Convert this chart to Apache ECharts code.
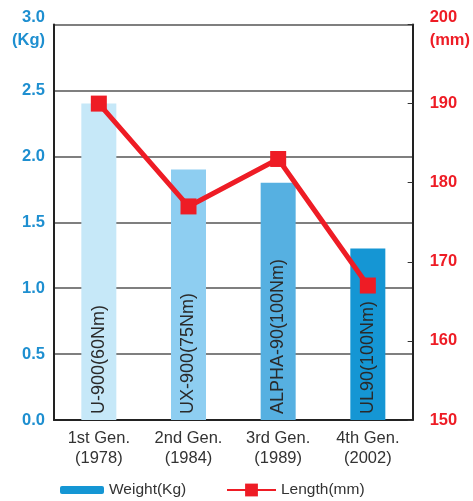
<!DOCTYPE html>
<html><head><meta charset="utf-8">
<script src="https://cdn.jsdelivr.net/npm/echarts@6/dist/echarts.min.js"></script>
<style>html,body{margin:0;padding:0;background:#fff}#c{width:473px;height:501px}</style>
</head><body><div id="c"></div>
<script>
const categories = ['1st Gen.\n(1978)', '2nd Gen.\n(1984)', '3rd Gen.\n(1989)', '4th Gen.\n(2002)'];
const models = ['U-900(60Nm)', 'UX-900(75Nm)', 'ALPHA-90(100Nm)', 'UL90(100Nm)'];
const weightKg = [2.4, 1.9, 1.8, 1.3];
const lengthMm = [190, 177, 183, 167];
const barColors = ['#c6e8f8', '#8ecef1', '#56b0e1', '#1596d4'];

const chart = echarts.init(document.getElementById('c'));
const font = '"Liberation Sans", Arial, sans-serif';
chart.setOption({
  animation: false,
  textStyle: { fontFamily: font },
  grid: { left: 54, right: 58, top: 22, bottom: 81 },
  legend: [
    { data: ['Weight(Kg)'], left: 55, top: 477, itemWidth: 44, itemHeight: 8,
      textStyle: { fontSize: 15.5, color: '#333', fontFamily: font }, itemGap: 2 },
    { data: ['Length(mm)'], left: 221, top: 477, itemWidth: 49, itemHeight: 16,
      textStyle: { fontSize: 15.5, color: '#333', fontFamily: font } }
  ],
  xAxis: {
    type: 'category', data: categories,
    axisLine: { lineStyle: { color: '#222', width: 2 } },
    axisTick: { inside: true, length: 5, lineStyle: { color: '#333' } },
    axisLabel: { fontSize: 16.5, color: '#333', lineHeight: 20, margin: 8, fontFamily: font }
  },
  yAxis: [
    { type: 'value', min: 0, max: 3, interval: 0.5, position: 'left',
      axisLine: { show: true, lineStyle: { color: '#222', width: 2 } },
      axisTick: { show: false },
      splitLine: { lineStyle: { color: '#555', width: 1.5 } },
      axisLabel: { color: '#1e8fd0', fontWeight: 'bold', fontSize: 16.5, margin: 9, fontFamily: font, lineHeight: 23,
        formatter: v => v === 3 ? '{t|3.0\n(Kg)}' : v.toFixed(1),
        rich: { t: { color: '#1e8fd0', fontWeight: 'bold', fontSize: 16.5, lineHeight: 23, padding: [9, 0, 0, 0], align: 'right', fontFamily: font } } } },
    { type: 'value', min: 150, max: 200, interval: 10, position: 'right',
      axisLine: { show: true, lineStyle: { color: '#222', width: 2 } },
      axisTick: { show: true, inside: true, length: 5, lineStyle: { color: '#333' } },
      splitLine: { show: false },
      axisLabel: { color: '#ee1c25', fontWeight: 'bold', fontSize: 16.5, margin: 17, fontFamily: font, lineHeight: 23,
        formatter: v => v === 200 ? '{t|200\n(mm)}' : String(v),
        rich: { t: { color: '#ee1c25', fontWeight: 'bold', fontSize: 16.5, lineHeight: 23, padding: [9, 0, 0, 0], fontFamily: font } } } }
  ],
  series: [
    { name: 'Weight(Kg)', type: 'bar', barWidth: 35, yAxisIndex: 0,
      itemStyle: { color: '#1596d4' },
      data: weightKg.map((v, i) => ({ value: v, itemStyle: { color: barColors[i] },
        label: { show: true, formatter: models[i] } })),
      label: { show: true, position: 'insideBottom', rotate: 90, align: 'left', verticalAlign: 'middle',
        distance: 6, fontSize: 18, color: '#2a2a2a', fontFamily: font }
    },
    { name: 'Length(mm)', type: 'line', yAxisIndex: 1, data: lengthMm,
      symbol: 'rect', symbolSize: 16,
      lineStyle: { color: '#ee1c25', width: 5 },
      itemStyle: { color: '#ee1c25' } }
  ]
});
</script></body></html>
